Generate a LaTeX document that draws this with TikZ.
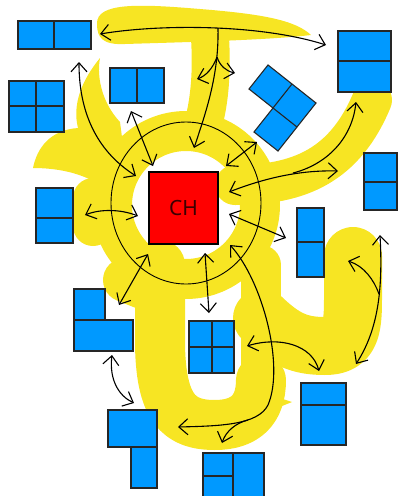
\documentclass[tikz,border=0pt]{standalone}
\usepackage{fontspec}
\usepackage{tikz}
\usetikzlibrary{arrows.meta}
\newfontfamily\chfont{Noto Sans}
\definecolor{hilite}{RGB}{247,229,35}
\definecolor{boxblue}{RGB}{0,153,255}
\definecolor{chred}{RGB}{255,0,0}
\definecolor{chtext}{RGB}{60,0,0}

\begin{document}
\begin{tikzpicture}[x=1pt,y=-1pt,>={Straight Barb[length=9pt,width=16pt]},
  hl/.style={draw=hilite,line width=#1,line cap=round,line join=round},
  edge/.style={draw=black!85,line width=1.1pt},
  cell/.style={edge,fill=boxblue},
  link/.style={line width=1.1pt},
  chbox/.style={draw,line width=2pt,fill=chred,minimum width=69pt,minimum height=72pt,inner sep=0pt,text=chtext,font=\chfont\fontsize{21}{21}\selectfont}]
\useasboundingbox (0,0) rectangle (398,496);

% highlighter
\fill[hilite] (97,24) .. controls (96,2) and (140,4) .. (200,9) .. controls (262,14) and (295,20) .. (311,35) .. controls (270,40) and (190,42) .. (125,44) .. controls (103,45) and (97,38) .. cycle;
\fill[hilite] (100,58) .. controls (96,80) and (104,105) .. (120,122) -- (125,160) -- (100,185) .. controls (80,172) and (55,168) .. (33,168) .. controls (37,148) and (50,130) .. (78,128) .. controls (72,104) and (82,80) .. cycle;
\draw[hl=38pt] (210,38) .. controls (212,70) and (210,100) .. (203,125);
\draw[hl=40pt] (186,205) ellipse [x radius=74,y radius=74];
\draw[hl=40pt] (93,198) -- (93,226);
\draw[hl=44pt] (125,280) -- (150,290);
\draw[hl=50pt] (160,265) -- (160,340) .. controls (160,410) and (180,425) .. (215,425) .. controls (245,425) and (261,410) .. (261,380);
\draw[hl=40pt] (261,395) -- (261,265);
\draw[hl=58pt] (262,318) .. controls (285,340) and (300,346) .. (325,346) .. controls (350,346) and (353,330) .. (353,300) -- (353,256);
\fill[hilite] (262,392) -- (292,402) -- (262,414) -- cycle;
\draw[hl=40pt] (235,185) .. controls (300,185) and (345,165) .. (372,100);

% ring and centre
\draw[line width=0.9pt] (186,203) ellipse [x radius=75,y radius=81];
\node[chbox] (ch) at (183.5,208) {CH};

% arrow ends
\coordinate (topL) at (100,34);
\coordinate (topR) at (326,45);
\coordinate (topJ) at (218,28);
\coordinate (chTop) at (194,148);
\coordinate (fork) at (217,57);
\coordinate (forkL) at (197,79);
\coordinate (forkR) at (235,73);
\coordinate (leftUp) at (79,62);
\coordinate (chNW) at (136,176);
\coordinate (pairUp) at (131,111);
\coordinate (pairDn) at (153,166);
\coordinate (chE1) at (229,192);
\coordinate (rightR) at (338,171);
\coordinate (rightJ) at (293,173);
\coordinate (tallUp) at (356,102);
\coordinate (tetUp) at (257,142);
\coordinate (tetDn) at (226,166);
\coordinate (chE2) at (229,214);
\coordinate (slimL) at (286,238);
\coordinate (sideL) at (85,215);
\coordinate (chW) at (138,216);
\coordinate (chSW) at (148,254);
\coordinate (lshapeUp) at (119,305);
\coordinate (chS) at (205,253);
\coordinate (gridUp) at (209,313);
\coordinate (chSE) at (230,245);
\coordinate (hookL) at (178,427);
\coordinate (hookJ) at (248,420);
\coordinate (bottomUp) at (222,443);
\coordinate (gridR) at (247,346);
\coordinate (lowUp) at (319,371);
\coordinate (farUp) at (380,235);
\coordinate (farDn) at (356,364);
\coordinate (farJ) at (379,294);
\coordinate (lobeUp) at (348,261);
\coordinate (lshapeDn) at (112,355);
\coordinate (stepUp) at (134,403);

% arrows
\draw[link,<->] (topL) .. controls (160,24) and (260,24) .. (topR);
\draw[link,->] (topJ) .. controls (219,75) and (206,112) .. (chTop);
\draw[link,->] (fork) .. controls (213,68) and (206,76) .. (forkL);
\draw[link,->] (fork) .. controls (220,66) and (226,71) .. (forkR);
\draw[link,<->] (leftUp) .. controls (79,110) and (95,150) .. (chNW);
\draw[link,<->] (pairUp) -- (pairDn);
\draw[link,<->] (chE1) .. controls (265,178) and (300,170) .. (rightR);
\draw[link,->] (rightJ) .. controls (325,165) and (352,140) .. (tallUp);
\draw[link,<->] (tetDn) -- (tetUp);
\draw[link,<->] (chE2) -- (slimL);
\draw[link,<->] (sideL) .. controls (100,209) and (120,209) .. (chW);
\draw[link,<->] (chSW) -- (lshapeUp);
\draw[link,<->] (chS) -- (gridUp);
\draw[link,<->] (chSE) .. controls (262,280) and (285,365) .. (268,405) .. controls (258,425) and (220,426) .. (hookL);
\draw[link,->] (hookJ) .. controls (236,423) and (226,431) .. (bottomUp);
\draw[link,<->] (gridR) .. controls (280,336) and (312,345) .. (lowUp);
\draw[link,<->] (farUp) .. controls (383,290) and (378,330) .. (farDn);
\draw[link,->] (farJ) .. controls (374,280) and (364,266) .. (lobeUp);
\draw[link,<->] (lshapeDn) .. controls (109,380) and (119,396) .. (stepUp);

% boxes
\draw[cell] (18,21) rectangle (91,49); \draw[edge] (54,21) -- (54,49);
\draw[cell] (9,81) rectangle (64,132); \draw[edge] (36,81) -- (36,132) (9,106) -- (64,106);
\draw[cell] (110,68) rectangle (164,103); \draw[edge] (137,68) -- (137,103);
\draw[cell] (338,31) rectangle (391,92); \draw[edge] (338,61) -- (391,61);
\begin{scope}[shift={(273,108)}]
  \draw[cell] (0,0) -- (-24,-19) -- (-5,-43) -- (19,-24) -- (43,-5) -- (24,19) -- (5,43) -- (-19,24) -- cycle;
  \draw[edge] (19,-24) -- (0,0) -- (24,19);
\end{scope}
\draw[cell] (364,153) rectangle (397,210); \draw[edge] (364,182) -- (397,182);
\draw[cell] (297,208) rectangle (324,277); \draw[edge] (297,242) -- (324,242);
\draw[cell] (36,188) rectangle (73,243); \draw[edge] (36,218) -- (73,218);
\draw[cell] (74,289) -- (105,289) -- (105,320) -- (133,320) -- (133,351) -- (74,351) -- cycle; \draw[edge] (74,320) -- (105,320);
\draw[cell] (189,321) rectangle (234,373); \draw[edge] (212,321) -- (212,373) (189,347) -- (234,347);
\draw[cell] (301,383) rectangle (346,445); \draw[edge] (301,405) -- (346,405);
\draw[cell] (108,410) -- (157,410) -- (157,488) -- (131,488) -- (131,447) -- (108,447) -- cycle; \draw[edge] (131,447) -- (157,447);
\draw[cell] (203,453) rectangle (264,505); \draw[edge] (233,453) -- (233,505) (203,476) -- (233,476);
\end{tikzpicture}
\end{document}
